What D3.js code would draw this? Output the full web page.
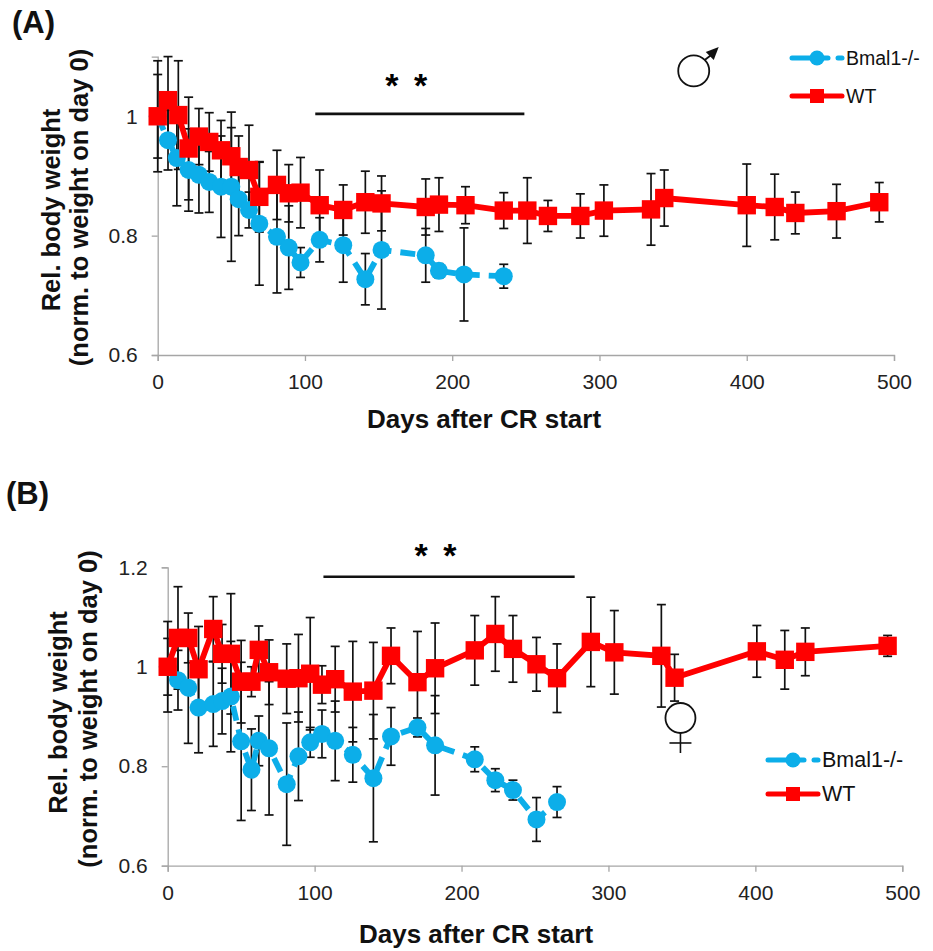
<!DOCTYPE html>
<html><head><meta charset="utf-8">
<script src="https://cdn.jsdelivr.net/npm/d3@7/dist/d3.min.js"></script>
<style>html,body{margin:0;padding:0;background:#fff}svg{display:block}text{font-family:"Liberation Sans",Arial,sans-serif}</style>
</head><body><svg id="c" width="933" height="951"></svg>
<script>
// Panel A (male)
const koDaysA=[0,7,13,21,28,35,43,50,55,62,69,81,89,97,110,126,141,152,182,191,208,235];
const koValA=[1,.96,.93,.91,.902,.89,.882,.882,.861,.843,.82,.798,.78,.755,.793,.784,.727,.776,.767,.741,.735,.732];
const koErrA=[.07,.05,.08,.069,.064,.051,.085,.125,.061,.03,.103,.094,.07,.025,.037,.062,.043,.099,.045,.012,.078,.02];
const wtDaysA=[0,7,14,21,28,35,43,50,55,62,69,81,89,97,110,126,141,152,182,191,209,235,251,265,287,303,335,344,400,419,433,461,490];
const wtValA=[1,1.027,1.002,.946,.966,.957,.943,.933,.915,.91,.865,.885,.871,.872,.851,.843,.856,.854,.848,.852,.851,.842,.842,.833,.833,.842,.844,.863,.851,.848,.838,.841,.856];
const wtErrA=[.093,.073,.091,.086,.047,.049,.05,.048,.052,.075,.059,.058,.048,.059,.059,.042,.052,.046,.047,.045,.031,.03,.055,.026,.037,.043,.06,.047,.069,.055,.035,.045,.033];
// Panel B (female)
const koDaysB=[0,7,14,21,31,37,43,50,57,62,69,81,89,97,105,114,126,140,152,170,182,209,223,235,251,265];
const koValB=[1,.973,.958,.918,.925,.931,.94,.85,.793,.851,.836,.764,.82,.848,.865,.851,.823,.776,.86,.878,.842,.814,.772,.752,.693,.728];
const koErrB=[.057,.06,.112,.091,.085,.066,.111,.159,.082,.05,.134,.123,.089,.03,.048,.08,.055,.128,.058,.019,.1,.025,.023,.02,.044,.031];
const wtDaysB=[0,7,14,21,31,37,43,50,57,62,69,81,89,97,105,114,126,140,152,170,182,209,223,235,251,265,288,304,336,345,401,420,434,490];
const wtValB=[1,1.058,1.058,.995,1.076,1.026,1.026,.97,.97,1.034,.989,.976,.977,.986,.964,.975,.95,.952,1.022,.969,.997,1.033,1.066,1.036,1.005,.977,1.05,1.029,1.022,.978,1.031,1.014,1.03,1.042];
const wtErrB=[.091,.103,.05,.086,.065,.059,.121,.083,.03,.048,.065,.07,.088,.113,.038,.066,.101,.097,.056,.102,.091,.07,.075,.067,.054,.069,.09,.084,.103,.047,.052,.059,.048,.021];
const xTicks=[0,100,200,300,400,500];
const yTicksA=[.6,.8,1];
const yTicksB=[.6,.8,1,1.2];
const seriesNames=["Bmal1-/-","WT"];
const xTitle="Days after CR start";
const yTitle1="Rel. body weight";
const yTitle2="(norm. to weight on day 0)";

const BLUE="#0caee9",RED="#ff0000",GREY="#a6a6a6";
const svg=d3.select("#c");

function panel(o){
  const x=d3.scaleLinear().domain([0,500]).range(o.xr);
  const y=d3.scaleLinear().domain(o.yd).range(o.yr);
  const g=svg.append("g");
  g.append("text").attr("x",o.lab[0]).attr("y",o.lab[1]).attr("font-size",31).attr("font-weight",700).attr("fill","#111").text(o.label);
  const ax=g.append("g").attr("transform",`translate(0,${o.yr[0]})`).call(d3.axisBottom(x).tickValues(xTicks).tickFormat(d3.format("d")).tickSize(6).tickPadding(13));
  const ay=g.append("g").attr("transform",`translate(${o.xr[0]},0)`).call(d3.axisLeft(y).tickValues(o.yt).tickFormat(d=>d===1?"1":d3.format(".1f")(d)).tickSize(6).tickPadding(14));
  [ax,ay].forEach(a=>{a.selectAll("path,line").attr("stroke",GREY).attr("stroke-width",1.3);a.selectAll("text").attr("font-size",21).attr("fill","#222").style("font-family",'"Liberation Sans",Arial,sans-serif');});
  g.append("text").attr("x",o.xt[0]).attr("y",o.xt[1]).attr("text-anchor","middle").attr("font-size",26).attr("font-weight",700).attr("fill","#111").text(xTitle);
  [[yTitle1,o.yt1],[yTitle2,o.yt2]].forEach(([t,p])=>g.append("text").attr("transform",`translate(${p[0]},${p[1]}) rotate(-90)`).attr("text-anchor","middle").attr("font-size",25.5).attr("font-weight",700).attr("fill","#111").text(t));
  // significance bar
  g.append("line").attr("x1",x(o.sig[0])).attr("x2",x(o.sig[1])).attr("y1",y(o.sig[2])).attr("y2",y(o.sig[2])).attr("stroke","#111").attr("stroke-width",2.6);
  g.append("text").attr("x",x((o.sig[0]+o.sig[1])/2)-12).attr("y",y(o.sig[2])-o.starDy).attr("text-anchor","middle").attr("font-size",34).attr("font-weight",700).style("letter-spacing","3px").text("* *");

  const line=d3.line().x(d=>x(d.d)).y(d=>y(d.v));
  const mk=(ds,vs,es)=>ds.map((d,i)=>({d,v:vs[i],e:es[i]}));
  const ko=mk(o.ko[0],o.ko[1],o.ko[2]),wt=mk(o.wt[0],o.wt[1],o.wt[2]);
  function errs(data){
    const e=g.append("g").attr("stroke","#111").attr("stroke-width",1.7);
    e.selectAll("line.v").data(data).join("line").attr("class","v").attr("x1",d=>x(d.d)).attr("x2",d=>x(d.d)).attr("y1",d=>y(d.v+d.e)).attr("y2",d=>y(d.v-d.e));
    [1,-1].forEach(s=>e.selectAll("line.c"+(s>0?"u":"d")).data(data).join("line").attr("class","c"+(s>0?"u":"d")).attr("x1",d=>x(d.d)-4.5).attr("x2",d=>x(d.d)+4.5).attr("y1",d=>y(d.v+s*d.e)).attr("y2",d=>y(d.v+s*d.e)));
  }
  errs(ko);errs(wt);
  g.append("path").datum(ko).attr("d",line).attr("fill","none").attr("stroke",BLUE).attr("stroke-width",5.8).attr("stroke-dasharray","15 9").attr("stroke-linejoin","round");
  g.selectAll("circle.k").data(ko).join("circle").attr("class","k").attr("cx",d=>x(d.d)).attr("cy",d=>y(d.v)).attr("r",9).attr("fill",BLUE);
  g.append("path").datum(wt).attr("d",line).attr("fill","none").attr("stroke",RED).attr("stroke-width",5.8);
  g.selectAll("rect.w").data(wt).join("rect").attr("class","w").attr("x",d=>x(d.d)-9.2).attr("y",d=>y(d.v)-9.2).attr("width",18.4).attr("height",18.4).attr("fill",RED);
  // legend
  const L=o.leg;
  seriesNames.forEach((n,i)=>{
    const yy=L.y[i],c=i?RED:BLUE;
    if(i) g.append("line").attr("x1",L.x).attr("x2",L.x+50).attr("y1",yy).attr("y2",yy).attr("stroke",c).attr("stroke-width",5).attr("stroke-linecap","round");
    else{
      g.append("line").attr("x1",L.x).attr("x2",L.x+36).attr("y1",yy).attr("y2",yy).attr("stroke",c).attr("stroke-width",5).attr("stroke-linecap","round");
      g.append("line").attr("x1",L.x+46).attr("x2",L.x+50).attr("y1",yy).attr("y2",yy).attr("stroke",c).attr("stroke-width",5).attr("stroke-linecap","round");
      g.append("circle").attr("cx",L.x+25).attr("cy",yy).attr("r",7.5).attr("fill",c);
    }
    if(i) g.append("rect").attr("x",L.x+18).attr("y",yy-7).attr("width",14).attr("height",14).attr("fill",c);
    g.append("text").attr("x",L.x+54).attr("y",yy+7).attr("font-size",L.fs).attr("fill","#111").text(n);
  });
  return {g,x,y};
}

const A=panel({label:"(A)",lab:[12,33],xr:[157.7,894],yd:[.6,1.1],yr:[355,56.6],yt:yTicksA,
  xt:[484,428],yt1:[59.5,210],yt2:[88,207.5],sig:[107,249,1.004],starDy:17,
  ko:[koDaysA,koValA,koErrA],wt:[wtDaysA,wtValA,wtErrA],leg:{x:792,y:[58,96],fs:19.5}});
const B=panel({label:"(B)",lab:[6,504],xr:[167.7,902.3],yd:[.6,1.2],yr:[865.7,567.3],yt:yTicksB,
  xt:[476,943],yt1:[66.5,712.5],yt2:[96.7,709],sig:[106,277,1.181],starDy:10,
  ko:[koDaysB,koValB,koErrB],wt:[wtDaysB,wtValB,wtErrB],leg:{x:768,y:[760,794],fs:21.5}});

// sex symbols, placed in data space
const maleAt=[364,1.076],femaleAt=[349,.897];
{
  const cx=A.x(maleAt[0]),cy=A.y(maleAt[1]);
  const s=A.g.append("g").attr("transform",`translate(${cx},${cy})`);
  s.append("circle").attr("r",15.5).attr("fill","#fff").attr("stroke","#111").attr("stroke-width",1.8);
  s.append("line").attr("x1",11).attr("y1",-11).attr("x2",20).attr("y2",-18).attr("stroke","#111").attr("stroke-width",1.8);
  s.append("path").attr("d","M25,-24L20,-11L12,-19Z").attr("fill","#111");
}
{
  const cx=B.x(femaleAt[0]),cy=B.y(femaleAt[1]);
  const s=B.g.append("g").attr("transform",`translate(${cx},${cy})`);
  s.append("circle").attr("r",15).attr("fill","#fff").attr("stroke","#111").attr("stroke-width",1.8);
  s.append("line").attr("x1",0).attr("y1",15).attr("x2",0).attr("y2",35).attr("stroke","#111").attr("stroke-width",1.6);
  s.append("line").attr("x1",-11).attr("y1",25).attr("x2",11).attr("y2",25).attr("stroke","#111").attr("stroke-width",1.6);
}
</script></body></html>
